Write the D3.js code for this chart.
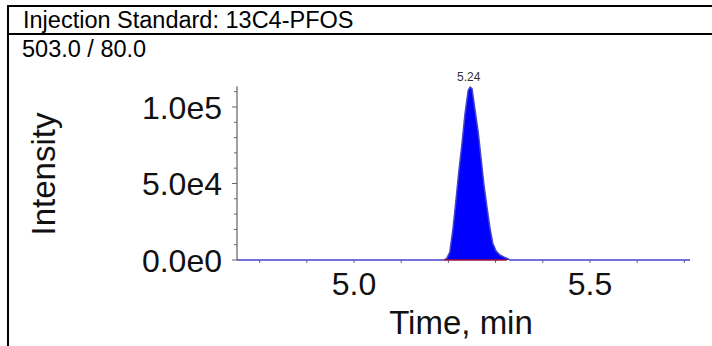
<!DOCTYPE html>
<html>
<head>
<meta charset="utf-8">
<script src="https://cdn.jsdelivr.net/npm/d3@7"></script>
<style>
  body { margin: 0; background: #fff; }
  svg { display: block; font-family: Arial, "Liberation Sans", sans-serif; }
</style>
</head>
<body>
<div id="chart"></div>
<script>
// chromatogram trace
var times = [4.752, 5.000, 5.191, 5.197, 5.203, 5.210, 5.216, 5.222, 5.229, 5.235, 5.242, 5.246,
             5.250, 5.256, 5.263, 5.269, 5.275, 5.282, 5.288, 5.294, 5.301, 5.309, 5.320, 5.331, 5.500, 5.712];
var intensities = [0, 0, 0, 1300, 5200, 21000, 39000, 57500, 76500, 95000, 111000, 113000,
                   112000, 99000, 84000, 67000, 50000, 34000, 21000, 11000, 5900, 3300, 1600, 0, 0, 0];
var peakStart = 5.191, peakEnd = 5.324;
var peakLabel = "5.24", peakTime = 5.243, peakHeight = 113000;
var yTicks = [0, 50000, 100000];
var yTickLabels = ["0.0e0", "5.0e4", "1.0e5"];
var xTicks = [5.0, 5.5];
var xTickLabels = ["5.0", "5.5"];
var title = "Injection Standard: 13C4-PFOS";
var subtitle = "503.0 / 80.0";

var data = times.map(function(t, i) { return {t: t, v: intensities[i]}; });

var W = 712, H = 346;
var svg = d3.select("#chart").append("svg")
    .attr("width", W)
    .attr("height", H);

// frame
svg.append("line").attr("x1", 7).attr("x2", W).attr("y1", 6).attr("y2", 6)
    .attr("stroke", "#000").attr("stroke-width", 2);
svg.append("line").attr("x1", 7).attr("x2", W).attr("y1", 34).attr("y2", 34)
    .attr("stroke", "#000").attr("stroke-width", 2);
svg.append("line").attr("x1", 8).attr("x2", 8).attr("y1", 5).attr("y2", H)
    .attr("stroke", "#000").attr("stroke-width", 2);

svg.append("text").attr("x", 23).attr("y", 28).attr("font-size", 23.5).text(title);
svg.append("text").attr("x", 22).attr("y", 57).attr("font-size", 23.5).text(subtitle);

var x = d3.scaleLinear().domain([4.752, 5.712]).range([237, 690]);
var y = d3.scaleLinear().domain([0, 100000]).range([260, 107]);

// y axis
var yAxis = svg.append("g").attr("transform", "translate(237,0)");
yAxis.append("line").attr("x1", 0).attr("x2", 0).attr("y1", y(113500)).attr("y2", y(0))
    .attr("stroke", "#444").attr("stroke-width", 1);
yAxis.selectAll(".minor").data(d3.range(0, 110001, 10000)).enter().append("line")
    .attr("x1", function(d) { return yTicks.indexOf(d) >= 0 ? -5 : -3; })
    .attr("x2", 0)
    .attr("y1", function(d) { return y(d); })
    .attr("y2", function(d) { return y(d); })
    .attr("stroke", "#666");
yAxis.selectAll(".lab").data(yTicks).enter().append("text")
    .attr("x", -15)
    .attr("y", function(d) { return y(d); })
    .attr("dy", "0.36em")
    .attr("text-anchor", "end")
    .attr("font-size", 32)
    .attr("fill", "#111")
    .text(function(d, i) { return yTickLabels[i]; });

svg.append("text")
    .attr("transform", "translate(55,174) rotate(-90)")
    .attr("text-anchor", "middle")
    .attr("font-size", 33)
    .attr("fill", "#111")
    .text("Intensity");

// x axis
var xAxis = svg.append("g").attr("transform", "translate(0,260)");
xAxis.selectAll(".minor").data(d3.range(4.8, 5.71, 0.1)).enter().append("line")
    .attr("x1", function(d) { return x(d); })
    .attr("x2", function(d) { return x(d); })
    .attr("y1", 0).attr("y2", 3)
    .attr("stroke", "#666");
xAxis.selectAll(".lab").data(xTicks).enter().append("text")
    .attr("x", function(d) { return x(d); })
    .attr("y", 35)
    .attr("text-anchor", "middle")
    .attr("font-size", 32)
    .attr("fill", "#111")
    .text(function(d, i) { return xTickLabels[i]; });

svg.append("text")
    .attr("x", 461).attr("y", 334)
    .attr("text-anchor", "middle")
    .attr("font-size", 33)
    .attr("fill", "#111")
    .text("Time, min");

// filled peak
var peak = data.filter(function(d) { return d.t >= peakStart && d.t <= peakEnd + 0.01; });
svg.append("path")
    .datum(peak)
    .attr("fill", "#0000ff")
    .attr("d", d3.area().x(function(d) { return x(d.t); }).y0(y(0)).y1(function(d) { return y(d.v); }));

// trace
svg.append("path")
    .datum(data)
    .attr("fill", "none")
    .attr("stroke", "#4444cc")
    .attr("stroke-width", 1.5)
    .attr("d", d3.line().x(function(d) { return x(d.t); }).y(function(d) { return y(d.v); }));

// integration baseline
svg.append("line")
    .attr("x1", x(peakStart)).attr("x2", x(peakEnd))
    .attr("y1", y(0)).attr("y2", y(0))
    .attr("stroke", "#a01030").attr("stroke-width", 1.5);

svg.append("text")
    .attr("x", x(peakTime)).attr("y", y(peakHeight) - 6)
    .attr("text-anchor", "middle")
    .attr("font-size", 12)
    .attr("fill", "#333")
    .text(peakLabel);
</script>
</body>
</html>
